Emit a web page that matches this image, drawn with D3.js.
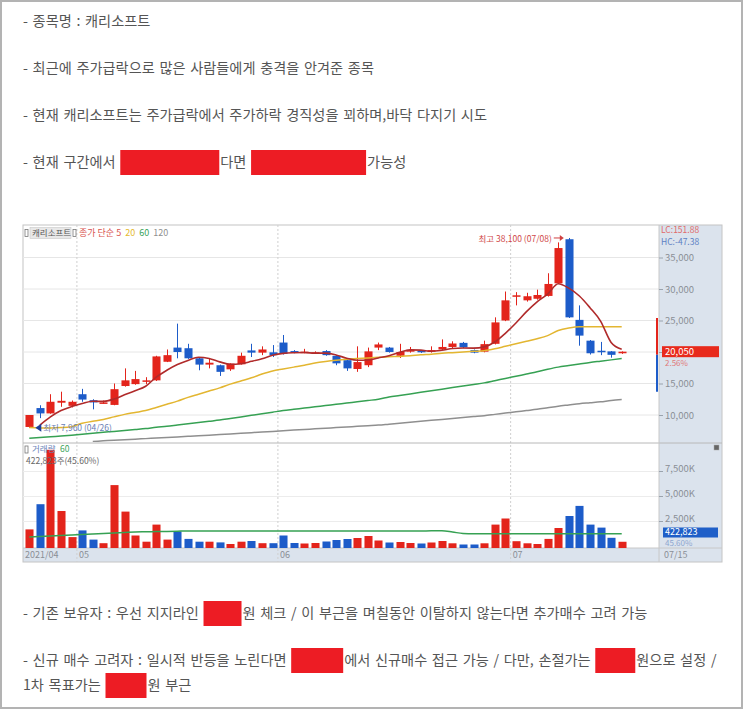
<!DOCTYPE html>
<html><head><meta charset="utf-8">
<script src="https://cdn.jsdelivr.net/npm/d3@7"></script>
<style>
body{margin:0;background:#fff}
svg{display:block}
text{font-family:"Noto Sans CJK KR","Noto Sans",sans-serif}
</style>
</head><body>
<svg id="c" width="743" height="709"></svg>
<script>
// ---------- DATA ----------
const dates = ["04/26","04/27","04/28","04/29","04/30",
 "05/03","05/04","05/06","05/07","05/10","05/11","05/12","05/13","05/14","05/17","05/18","05/20","05/21","05/24","05/25","05/26","05/27","05/28","05/31",
 "06/01","06/02","06/03","06/04","06/07","06/08","06/09","06/10","06/11","06/14","06/15","06/16","06/17","06/18","06/21","06/22","06/23","06/24","06/25","06/28","06/29","06/30",
 "07/01","07/02","07/05","07/06","07/07","07/08","07/09","07/12","07/13","07/14","07/15"];
const opens  = [8100,11100,10250,11950,11450,13300,12350,11950,11600,14600,14900,15300,15500,18450,20700,20600,19000,18000,17900,17250,18050,20250,19900,19950,21500,20150,19900,19850,20150,19400,18700,17300,17900,20700,20700,19400,20050,20200,20050,20400,20800,21450,20300,20050,21300,25000,28800,28200,28450,28900,30900,37900,25100,21800,20200,20100,19800];
const highs  = [10000,11550,13300,13700,12300,14150,12500,12300,15000,17400,17000,16000,19400,20400,24500,21300,19100,18950,18000,18200,19900,21300,20900,21100,22700,20300,20500,20100,20300,19500,18800,20900,20700,21500,20800,21300,20800,20300,20900,22000,21700,21600,20400,21800,25500,29600,29500,29400,29900,32500,37400,38100,27400,21900,21600,20150,20100];
const lows   = [7960,9500,10200,11300,11200,12100,10900,11800,11550,14500,14800,14900,15400,18400,19000,18900,17100,17400,16200,17000,18000,19200,19500,19200,19600,19800,19800,19700,19400,17900,17000,16850,17600,20300,19900,19050,19900,19850,19900,20300,20600,20600,19800,19950,21200,24900,27400,28000,28300,28800,30800,25400,21000,19600,19500,19100,19700];
const closes = [10000,10250,12100,12250,12100,12450,12000,12000,14100,15500,15700,15500,19300,19500,20000,19000,18000,18300,16850,18150,19400,19900,20400,19500,19700,19900,20050,19950,19500,18200,17400,18400,20100,21200,20000,20000,20350,19950,20300,20800,21350,20750,19900,21250,24700,28200,29000,28850,29050,30800,36500,25500,22600,19800,20150,19550,20050];
const volumes = [1660000,4180000,9620000,3500000,890000,1560000,640000,280000,6090000,3440000,1050000,430000,2140000,640000,1460000,710000,430000,430000,360000,200000,430000,500000,280000,280000,1050000,300000,250000,300000,450000,600000,700000,800000,1000000,550000,350000,400000,300000,250000,350000,500000,270000,150000,150000,270000,2140000,2750000,480000,270000,200000,710000,1800000,3000000,4010000,2140000,1840000,820000,422823];
const ma5   = [null,8400,9700,10700,11340,11830,12180,12160,12530,13210,13860,14560,16020,17100,18000,18660,19160,18960,18430,18060,18140,18520,18940,19470,19780,19880,19910,19820,19820,19520,19020,18690,18720,19060,19420,19940,20330,20300,20120,20280,20550,20630,20620,20810,21590,22960,24610,26400,27960,29180,30840,30140,28890,27040,24910,21520,20430];
const ma20  = [8000,7950,7950,8000,8150,8700,9000,9300,9700,10100,10400,10700,11200,11700,12200,12800,13300,13800,14300,14900,15400,15900,16500,17000,17300,17600,17900,18250,18500,18700,18850,18950,19050,19150,19250,19300,19400,19550,19650,19800,19900,20000,20100,20200,20500,20900,21300,21700,22100,22600,23400,23800,24000,24000,24000,24000,24000];
const ma60  = [6300,6420,6540,6660,6800,6950,7100,7250,7400,7550,7700,7850,8050,8200,8400,8600,8800,9000,9200,9450,9700,9950,10200,10450,10700,10900,11100,11300,11500,11700,11900,12100,12300,12500,12850,13100,13350,13600,13850,14100,14350,14600,14850,15100,15450,15800,16150,16500,16850,17250,17600,17850,18100,18350,18550,18750,18950];
const ma120 = [null,null,null,null,null,null,5800,5900,6000,6080,6160,6250,6340,6430,6520,6610,6700,6800,6900,7000,7100,7200,7300,7400,7500,7600,7700,7800,7900,8000,8100,8200,8300,8400,8550,8700,8850,9000,9150,9300,9450,9600,9750,9900,10100,10300,10500,10700,10900,11150,11400,11600,11800,11950,12100,12300,12450];
const volMa60 = [900000,950000,1000000,1050000,1100000,1150000,1200000,1250000,1300000,1350000,1400000,1420000,1440000,1460000,1480000,1500000,1500000,1500000,1500000,1500000,1500000,1500000,1500000,1500000,1500000,1500000,1500000,1500000,1500000,1500000,1500000,1500000,1500000,1500000,1500000,1500000,1500000,1500000,1520000,1520000,1400000,1250000,1220000,1220000,1220000,1220000,1220000,1220000,1220000,1220000,1220000,1220000,1220000,1220000,1220000,1220000,1220000];
const priceTicks = [10000,15000,20000,25000,30000,35000];
const volTicks = [2500000,5000000,7500000];
const monthStarts = [["05/03","05"],["06/01","06"],["07/01","07"]];
const limitRange = [13700,19550,25400]; // lower limit, prev close, upper limit
const legendItems = [["종가 단순 5","#d9534f"],["20","#e5b92f"],["60","#3aa35a"],["120","#8f8f8f"]];
const textLines = [
  ["- 종목명 : 캐리소프트"],
  ["- 최근에 주가급락으로 많은 사람들에게 충격을 안겨준 종목"],
  ["- 현재 캐리소프트는 주가급락에서 주가하락 경직성을 꾀하며,바닥 다지기 시도"],
  ["- 현재 구간에서 ", "#", "다면 ", "#", "가능성"]
];
const bottomLines = [
  ["- 기존 보유자 : 우선 지지라인 ", "#", "원 체크 / 이 부근을 며칠동안 이탈하지 않는다면 추가매수 고려 가능"],
  ["- 신규 매수 고려자 : 일시적 반등을 노린다면 ", "#", "에서 신규매수 접근 가능 / 다만, 손절가는 ", "#", "원으로 설정 /"],
  ["1차 목표가는 ", "#", "원 부근"]
];

// ---------- LAYOUT ----------
const svg = d3.select("#c");
const RED = "#e3241b", BLUE = "#1d5cc9";
const L = 23, R = 659, FR = 722, PT = 225, PB = 443, VB = 548, AB = 562;

svg.append("rect").attr("x",1).attr("y",1).attr("width",741).attr("height",707)
  .attr("fill","#fff").attr("stroke","#b3b3b3").attr("stroke-width",2);

// ---- text paragraphs ----
function writeLine(parts, x, y, boxes) {
  const g = svg.append("g");
  let cx = x, bi = 0;
  parts.forEach(p => {
    if (p === "#") {
      const w = boxes[bi++];
      g.append("rect").attr("x",cx).attr("y",y-13).attr("width",w).attr("height",25).attr("fill","#ed1c24");
      cx += w + 1;
    } else {
      const t = g.append("text").attr("x",cx).attr("y",y).attr("dominant-baseline","middle")
        .attr("font-size",14.2).attr("word-spacing","1.5px").attr("fill","#555")
        .attr("xml:space","preserve").style("white-space","pre").text(p);
      cx += t.node().getBBox().width;
    }
  });
}
const topY = [22, 69, 116, 163];
const topBoxes = [[],[],[],[99,115]];
textLines.forEach((p,i)=>writeLine(p, 23, topY[i], topBoxes[i]));
const botY = [614, 661, 686];
const botBoxes = [[38],[52,40],[41]];
bottomLines.forEach((p,i)=>writeLine(p, 23, botY[i], botBoxes[i]));

// ---- chart frame ----
svg.append("rect").attr("x",R).attr("y",PT).attr("width",FR-R).attr("height",AB-PT).attr("fill","#dbe3ed");
svg.append("rect").attr("x",L).attr("y",VB).attr("width",R-L).attr("height",AB-VB).attr("fill","#dbe3ed");
svg.append("rect").attr("x",L).attr("y",PT).attr("width",FR-L).attr("height",AB-PT).attr("fill","none").attr("stroke","#c4c4c4");

// scales
const x = d3.scalePoint().domain(dates).range([24, 627]).padding(0.5);
const step = x.step();
const bw = step*0.76;
const y = d3.scaleLinear().domain([10000,35000]).range([415,257.5]);
const yv = d3.scaleLinear().domain([0,7500000]).range([546,471]);

// clips
const defs = svg.append("defs");
defs.append("clipPath").attr("id","cp").append("rect").attr("x",L).attr("y",PT).attr("width",R-L).attr("height",PB-PT-1);
defs.append("clipPath").attr("id","cv").append("rect").attr("x",L).attr("y",PB).attr("width",R-L).attr("height",VB-PB);

// gridlines
const gGrid = svg.append("g");
gGrid.selectAll("line.hp").data(priceTicks).join("line")
  .attr("x1",L).attr("x2",R).attr("y1",d=>y(d)).attr("y2",d=>y(d)).attr("stroke","#e6e6e6");
gGrid.selectAll("line.hv").data(volTicks).join("line").attr("class","hv")
  .attr("x1",L).attr("x2",R).attr("y1",d=>yv(d)+0.5).attr("y2",d=>yv(d)+0.5).attr("stroke","#ececec");
gGrid.selectAll("line.m").data(monthStarts).join("line").attr("class","m")
  .attr("x1",d=>x(d[0])-step/2).attr("x2",d=>x(d[0])-step/2).attr("y1",PT).attr("y2",AB)
  .attr("stroke","#cfcfcf").attr("stroke-dasharray","2,2");
// pane separators
svg.append("line").attr("x1",L).attr("x2",FR).attr("y1",PB).attr("y2",PB).attr("stroke","#b8b8b8");
svg.append("line").attr("x1",L).attr("x2",FR).attr("y1",VB).attr("y2",VB).attr("stroke","#c8c8c8");
svg.append("line").attr("x1",R).attr("x2",R).attr("y1",PT).attr("y2",AB).attr("stroke","#c8c8c8");

// ---- axes (right) ----
const axP = svg.append("g").attr("transform",`translate(${R},0)`)
  .call(d3.axisRight(y).tickValues(priceTicks).tickSize(4).tickFormat(d3.format(",")));
const axV = svg.append("g").attr("transform",`translate(${R},0)`)
  .call(d3.axisRight(yv).tickValues(volTicks).tickSize(4).tickFormat(d=>d3.format(",")(d/1000)+"K"));
[axP,axV].forEach(a=>{
  a.select(".domain").remove();
  a.selectAll("line").attr("stroke","#9aa3ad");
  a.selectAll("text").attr("fill","#8a8f96").attr("font-size",9.5).attr("x",6)
   .style("font-family","'Noto Sans CJK KR',sans-serif");
});
axV.selectAll(".tick text").attr("dy","0.1em");
// date axis
const dateLab = [[dates[0],"2021/04",true]].concat(monthStarts.map(m=>[m[0],m[1],false]));
svg.append("g").selectAll("text").data(dateLab).join("text")
  .attr("x",d=>d[2]?L+2:x(d[0])-step/2+2).attr("y",556).attr("dominant-baseline","middle")
  .attr("font-size",9).attr("fill","#8a8f96").text(d=>d[1]);
svg.append("text").attr("x",R+5).attr("y",556).attr("dominant-baseline","middle")
  .attr("font-size",9).attr("fill","#8a8f96").text(dates[dates.length-1]);

// LC / HC
svg.append("text").attr("x",R+2).attr("y",230.5).attr("dominant-baseline","middle").attr("font-size",8.5).attr("fill","#e06a6a").text("LC:151.88");
svg.append("text").attr("x",R+2).attr("y",242.5).attr("dominant-baseline","middle").attr("font-size",8.5).attr("fill","#5b7fc4").text("HC:-47.38");

// ---- legend ----
const lg = svg.append("g");
lg.append("rect").attr("x",25).attr("y",229.5).attr("width",3).attr("height",7).attr("fill","none").attr("stroke","#777").attr("stroke-width",0.8);
lg.append("rect").attr("x",30).attr("y",227.5).attr("width",41).attr("height",11).attr("fill","#e8e8e8").attr("stroke","#c8c8c8").attr("stroke-width",0.6);
lg.append("text").attr("x",32).attr("y",233.5).attr("dominant-baseline","middle").attr("font-size",8.5).attr("fill","#555").text("캐리소프트");
lg.append("rect").attr("x",73).attr("y",229.5).attr("width",3).attr("height",7).attr("fill","none").attr("stroke","#777").attr("stroke-width",0.8);
let lx = 79;
legendItems.forEach(([t,c])=>{
  const tt = lg.append("text").attr("x",lx).attr("y",233.5).attr("dominant-baseline","middle").attr("font-size",9).attr("fill",c).text(t);
  lx += tt.node().getComputedTextLength()+4;
});

// ---- limit range bar ----
svg.append("line").attr("x1",657).attr("x2",657).attr("y1",y(limitRange[2])).attr("y2",y(limitRange[1])).attr("stroke",RED).attr("stroke-width",2);
svg.append("line").attr("x1",657).attr("x2",657).attr("y1",y(limitRange[1])).attr("y2",y(limitRange[0])).attr("stroke",BLUE).attr("stroke-width",2);

// ---- candles ----
const idx = d3.range(dates.length);
const gp = svg.append("g").attr("clip-path","url(#cp)");
const up = i => closes[i] >= opens[i];
gp.selectAll("line.w").data(idx).join("line").attr("class","w")
  .attr("x1",i=>Math.round(x(dates[i]))+0.5).attr("x2",i=>Math.round(x(dates[i]))+0.5)
  .attr("y1",i=>y(highs[i])).attr("y2",i=>y(lows[i]))
  .attr("stroke",i=>up(i)?RED:BLUE).attr("stroke-width",1);
gp.selectAll("rect.b").data(idx).join("rect").attr("class","b")
  .attr("x",i=>Math.round(x(dates[i]))+0.5-bw/2).attr("width",bw)
  .attr("y",i=>y(Math.max(opens[i],closes[i])))
  .attr("height",i=>Math.max(1.5, y(Math.min(opens[i],closes[i]))-y(Math.max(opens[i],closes[i]))))
  .attr("fill",i=>up(i)?RED:BLUE);

// MA lines
function maLine(arr, scale, color, w, g) {
  const ln = d3.line().defined(i=>arr[i]!==null).x(i=>x(dates[i])).y(i=>scale(arr[i])).curve(d3.curveMonotoneX);
  g.append("path").datum(idx).attr("d",ln).attr("fill","none").attr("stroke",color).attr("stroke-width",w);
}
maLine(ma120, y, "#8f8f8f", 1.5, gp);
maLine(ma60, y, "#36a153", 1.5, gp);
maLine(ma20, y, "#e3b631", 1.5, gp);
maLine(ma5, y, "#b02a2a", 1.6, gp);

// high / low annotations
const hi = d3.maxIndex(highs), lo = d3.minIndex(lows);
const hx = x(dates[hi]) - bw/2 - 1, hy = y(highs[hi]);
svg.append("line").attr("x1",hx-10).attr("x2",hx-2).attr("y1",hy).attr("y2",hy).attr("stroke","#d04040").attr("stroke-width",1);
svg.append("path").attr("d",`M${hx},${hy} l-4,-3 l0,6 z`).attr("fill","#d04040");
svg.append("text").attr("x",hx-12).attr("y",hy+1.5).attr("text-anchor","end").attr("dominant-baseline","middle")
  .attr("font-size",8.5).attr("fill","#d04848").text(`최고 ${d3.format(",")(highs[hi])} (${dates[hi]})`);
const lx0 = x(dates[lo]) + bw/2 + 2, ly = y(lows[lo]);
svg.append("path").attr("d",`M${lx0},${ly} l6,-4 l0,8 z`).attr("fill","#1f3f9a");
svg.append("text").attr("x",lx0+8).attr("y",ly+0.5).attr("dominant-baseline","middle")
  .attr("font-size",8.5).attr("fill","#6a80b4").text(`최저 ${d3.format(",")(lows[lo])} (${dates[lo]})`);

// current price box
const last = closes.length-1;
const pct = (closes[last]/closes[last-1]-1)*100;
svg.append("rect").attr("x",662).attr("y",y(closes[last])-5.5).attr("width",57).attr("height",11).attr("fill","#e82a1c");
svg.append("text").attr("x",665).attr("y",y(closes[last])+0.5).attr("dominant-baseline","middle").attr("font-size",9.5).attr("fill","#fff").text(d3.format(",")(closes[last]));
svg.append("text").attr("x",665).attr("y",y(closes[last])+12.5).attr("dominant-baseline","middle").attr("font-size",8).attr("fill","#e07a7a").text(pct.toFixed(2)+"%");

// ---- volume pane ----
const gv = svg.append("g").attr("clip-path","url(#cv)");
const volTotalPct = 45.60;
svg.append("rect").attr("x",25).attr("y",446).attr("width",3).attr("height",7).attr("fill","none").attr("stroke","#777").attr("stroke-width",0.8);
svg.append("text").attr("x",32).attr("y",450).attr("dominant-baseline","middle").attr("font-size",8.5).attr("fill","#6a84b8").text("거래량");
svg.append("text").attr("x",60).attr("y",450).attr("dominant-baseline","middle").attr("font-size",8.5).attr("fill","#3aa35a").text("60");
svg.append("text").attr("x",26).attr("y",462).attr("dominant-baseline","middle").attr("font-size",8.5).attr("fill","#666")
  .text(`${d3.format(",")(volumes[last])}주(${volTotalPct.toFixed(2)}%)`);
gv.selectAll("rect.v").data(idx).join("rect").attr("class","v")
  .attr("x",i=>Math.round(x(dates[i]))+0.5-bw/2).attr("width",bw)
  .attr("y",i=>yv(volumes[i])).attr("height",i=>VB-yv(volumes[i]))
  .attr("fill",i=>up(i)?RED:BLUE);
maLine(volMa60, yv, "#36a153", 1.5, gv);

svg.append("rect").attr("x",663).attr("y",527.5).attr("width",55).attr("height",10).attr("fill","#1f5fc8");
svg.append("text").attr("x",665).attr("y",532.5).attr("dominant-baseline","middle").attr("font-size",9).attr("fill","#fff").text(d3.format(",")(volumes[last]));
svg.append("text").attr("x",665).attr("y",543.5).attr("dominant-baseline","middle").attr("font-size",8).attr("fill","#8ea6cf").text(volTotalPct.toFixed(2)+"%");
svg.append("rect").attr("x",714).attr("y",445).attr("width",5).attr("height",5).attr("fill","#666").attr("stroke","#aaa").attr("stroke-width",0.5);
</script>
</body></html>
